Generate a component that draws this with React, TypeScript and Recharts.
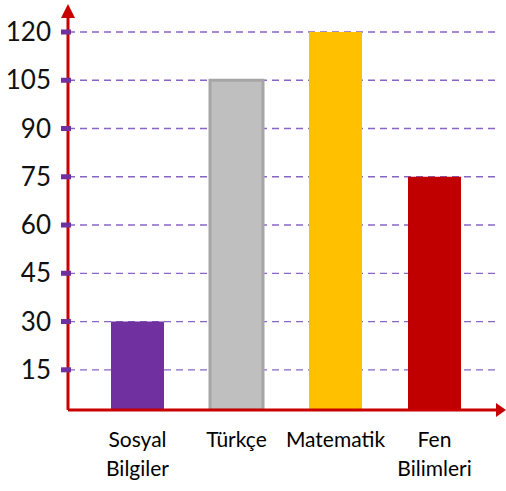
import { BarChart, Bar, XAxis, YAxis, CartesianGrid, Cell } from "recharts";

const subjects = ["Sosyal Bilgiler", "Türkçe", "Matematik", "Fen Bilimleri"];
const scores = [30, 105, 120, 75];
const yTicks = [15, 30, 45, 60, 75, 90, 105, 120];

const barFills = ["#7030a0", "#bfbfbf", "#ffc000", "#c00000"];
const barStrokes = ["none", "#a6a6a6", "none", "none"];

const AXIS_RED = "#c80000";
const GRID_PURPLE = "#8a63c6";
const TICK_PURPLE = "#7030a0";

const W = 506;
const H = 491;
// plot area edges (used for the arrow heads only)
const PLOT_LEFT = 68;
const PLOT_TOP = 18;
const PLOT_RIGHT = 496;
const PLOT_BOTTOM = 410;

function YTick(props: any) {
  const { x, y, payload } = props;
  return (
    <g>
      <rect x={x - 5} y={y - 2.5} width={10} height={5} fill={TICK_PURPLE} />
      <text
        x={x - 15}
        y={y}
        dy={9}
        textAnchor="end"
        fontSize={26}
        fontFamily="Lato, sans-serif"
        fill="#111"
      >
        {payload.value}
      </text>
    </g>
  );
}

function XTick(props: any) {
  const { x, y, payload } = props;
  const lines = String(payload.value).split(" ");
  return (
    <text
      x={x}
      y={y}
      textAnchor="middle"
      fontSize={21}
      fontFamily="Lato, sans-serif"
      fill="#000"
    >
      {lines.map((l, i) => (
        <tspan key={i} x={x} dy={i === 0 ? 35 : 29}>
          {l}
        </tspan>
      ))}
    </text>
  );
}

export default function App() {
  const data = subjects.map((name, i) => ({ name, value: scores[i] }));
  return (
    <div style={{ position: "relative", width: W, height: H }}>
      <style>{"body{margin:0;background:#fff}"}</style>
      <BarChart
        width={W}
        height={H}
        data={data}
        margin={{ top: PLOT_TOP, right: W - PLOT_RIGHT, bottom: 0, left: 8 }}
      >
        <CartesianGrid
          horizontal
          vertical={false}
          horizontalValues={yTicks}
          stroke={GRID_PURPLE}
          strokeDasharray="7 5"
          strokeWidth={1.3}
        />
        <XAxis
          dataKey="name"
          interval={0}
          height={H - PLOT_BOTTOM}
          padding={{ left: 20, right: 12 }}
          axisLine={{ stroke: AXIS_RED, strokeWidth: 3 }}
          tickLine={false}
          tickSize={0}
          tick={<XTick />}
        />
        <YAxis
          width={PLOT_LEFT - 8}
          domain={[2.5, 120]}
          ticks={yTicks}
          padding={{ top: 14, bottom: 0 }}
          axisLine={{ stroke: AXIS_RED, strokeWidth: 3 }}
          tickLine={false}
          tickSize={0}
          tick={<YTick />}
          allowDataOverflow
        />
        <Bar dataKey="value" barSize={53} isAnimationActive={false}>
          {data.map((d, i) => (
            <Cell
              key={d.name}
              fill={barFills[i]}
              stroke={barStrokes[i]}
              strokeWidth={barStrokes[i] === "none" ? 0 : 3}
            />
          ))}
        </Bar>
      </BarChart>
      <svg
        width={W}
        height={H}
        style={{ position: "absolute", left: 0, top: 0, pointerEvents: "none" }}
      >
        <polygon
          points={`${PLOT_LEFT - 7},${PLOT_TOP} ${PLOT_LEFT + 7},${PLOT_TOP} ${PLOT_LEFT},${PLOT_TOP - 14}`}
          fill={AXIS_RED}
        />
        <polygon
          points={`${PLOT_RIGHT},${PLOT_BOTTOM - 7} ${PLOT_RIGHT},${PLOT_BOTTOM + 7} ${PLOT_RIGHT + 10},${PLOT_BOTTOM}`}
          fill={AXIS_RED}
        />
      </svg>
    </div>
  );
}
